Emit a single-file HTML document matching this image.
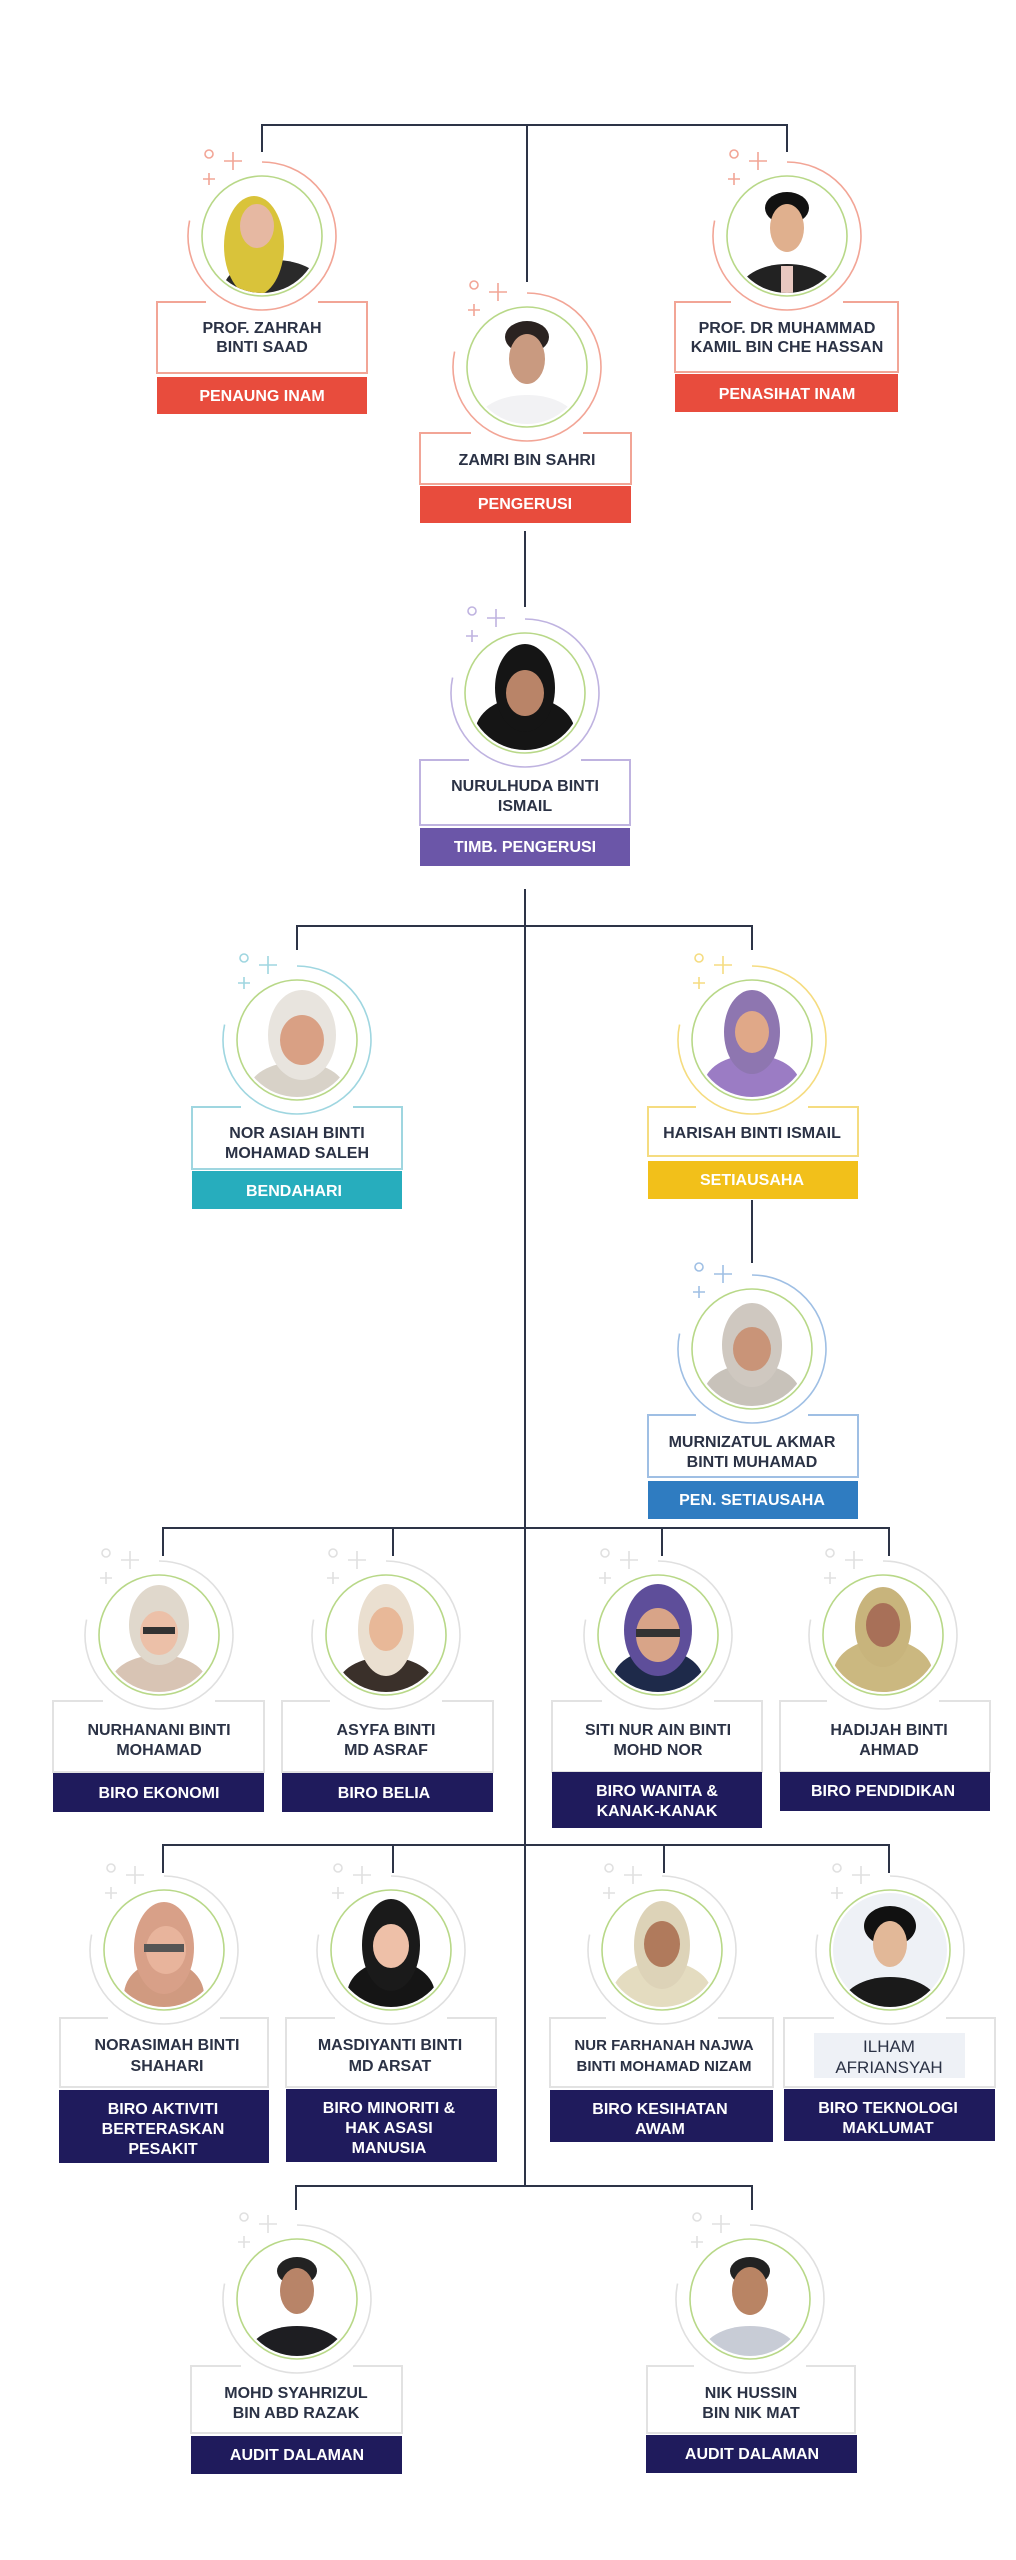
<!DOCTYPE html>
<html><head><meta charset="utf-8"><style>
html,body{margin:0;padding:0;background:#fff}
svg{display:block}
text{font-family:"Liberation Sans",Arial,sans-serif;font-weight:bold;text-anchor:middle}
.n{fill:#2b3245;font-size:16px}
.l{fill:#fff;font-size:16px}
</style></head><body>
<svg width="1016" height="2560" viewBox="0 0 1016 2560" xmlns="http://www.w3.org/2000/svg">
<defs><clipPath id="cp"><circle r="57"/></clipPath></defs>
<!-- connectors -->
<g stroke="#2d3447" stroke-width="2" fill="none">
<path d="M262,152V125H787V152M527,125V282"/>
<path d="M525,531V607M525,889V2186"/>
<path d="M297,950V926H752V950M752,1200V1263"/>
<path d="M163,1556V1528H889V1556M393,1528V1556M662,1528V1556"/>
<path d="M163,1873V1845H889V1873M393,1845V1873M664,1845V1873"/>
<path d="M296,2210V2186H752V2210"/>
</g>

<!-- boxes -->
<g stroke-width="2" fill="#fff">
<rect x="157" y="302" width="210" height="71" stroke="#f2a596"/>
<rect x="675" y="302" width="223" height="70" stroke="#f2a596"/>
<rect x="420" y="433" width="211" height="51" stroke="#f2a596"/>
<rect x="420" y="760" width="210" height="65" stroke="#bfb3e0"/>
<rect x="192" y="1107" width="210" height="62" stroke="#9fd6e0"/>
<rect x="648" y="1107" width="210" height="49" stroke="#f5dc80"/>
<rect x="648" y="1415" width="210" height="62" stroke="#9fbfe4"/>
<g stroke="#e2e2e2">
<rect x="53" y="1701" width="211" height="71"/>
<rect x="282" y="1701" width="211" height="71"/>
<rect x="552" y="1701" width="210" height="71"/>
<rect x="780" y="1701" width="210" height="71"/>
<rect x="60" y="2018" width="208" height="69"/>
<rect x="286" y="2018" width="210" height="69"/>
<rect x="550" y="2018" width="223" height="69"/>
<rect x="784" y="2018" width="211" height="69"/>
<rect x="191" y="2366" width="211" height="67"/>
<rect x="647" y="2366" width="208" height="67"/>
</g>
</g>
<rect x="814" y="2033" width="151" height="45" fill="#eef1f6"/>
<!-- gaps -->
<g stroke="#fff" stroke-width="4">
<path d="M206,302H318M731,302H843M471,433H583M469,760H581M241,1107H353M696,1107H808M696,1415H808"/>
<path d="M103,1701H215M330,1701H442M602,1701H714M827,1701H939"/>
<path d="M108,2018H220M335,2018H447M606,2018H718M834,2018H946"/>
<path d="M241,2366H353M694,2366H806"/>
</g>

<!-- labels -->
<rect x="157" y="377" width="210" height="37" fill="#e84c3d"/>
<rect x="675" y="374" width="223" height="38" fill="#e84c3d"/>
<rect x="420" y="486" width="211" height="37" fill="#e84c3d"/>
<rect x="420" y="828" width="210" height="38" fill="#6b56a8"/>
<rect x="192" y="1171" width="210" height="38" fill="#27adbd"/>
<rect x="648" y="1161" width="210" height="38" fill="#f2c01a"/>
<rect x="648" y="1481" width="210" height="38" fill="#2f7cc1"/>
<g fill="#1f1b5c">
<rect x="53" y="1773" width="211" height="39"/>
<rect x="282" y="1773" width="211" height="39"/>
<rect x="552" y="1772" width="210" height="56"/>
<rect x="780" y="1772" width="210" height="39"/>
<rect x="59" y="2090" width="210" height="73"/>
<rect x="286" y="2089" width="211" height="73"/>
<rect x="550" y="2090" width="223" height="52"/>
<rect x="784" y="2089" width="211" height="52"/>
<rect x="191" y="2436" width="211" height="38"/>
<rect x="646" y="2435" width="211" height="38"/>
</g>

<!-- node circles -->
<g fill="none" stroke-width="1.6">
<g transform="translate(262,236)" stroke="#f2a596"><path d="M0,-74A74,74 0 1 1 -72.4,-15.4"/><circle cx="-53" cy="-82" r="4"/><path d="M-38,-75h18M-29,-84v18M-59,-57h12M-53,-63v12"/><g clip-path="url(#cp)" stroke="none"><circle r="58" fill="#fff"/><ellipse cx="12" cy="52" rx="50" ry="28" fill="#2a2a2a"/><ellipse cx="-8" cy="10" rx="30" ry="50" fill="#d9c33a"/><ellipse cx="-5" cy="-10" rx="17" ry="22" fill="#e6b8a2"/></g><circle r="60" stroke="#b8d888"/></g>
<g transform="translate(787,236)" stroke="#f2a596"><path d="M0,-74A74,74 0 1 1 -72.4,-15.4"/><circle cx="-53" cy="-82" r="4"/><path d="M-38,-75h18M-29,-84v18M-59,-57h12M-53,-63v12"/><g clip-path="url(#cp)" stroke="none"><circle r="58" fill="#fff"/><ellipse cx="0" cy="56" rx="48" ry="28" fill="#222"/><ellipse cx="0" cy="-28" rx="22" ry="16" fill="#111"/><ellipse cx="0" cy="-8" rx="17" ry="24" fill="#e0b08e"/><rect x="-6" y="30" width="12" height="30" fill="#e8c8c0"/></g><circle r="60" stroke="#b8d888"/></g>
<g transform="translate(527,367)" stroke="#f2a596"><path d="M0,-74A74,74 0 1 1 -72.4,-15.4"/><circle cx="-53" cy="-82" r="4"/><path d="M-38,-75h18M-29,-84v18M-59,-57h12M-53,-63v12"/><g clip-path="url(#cp)" stroke="none"><circle r="58" fill="#fff"/><ellipse cx="0" cy="56" rx="50" ry="28" fill="#f2f2f4"/><ellipse cx="0" cy="-30" rx="22" ry="16" fill="#2a2220"/><ellipse cx="0" cy="-8" rx="18" ry="25" fill="#c99a80"/></g><circle r="60" stroke="#b8d888"/></g>
<g transform="translate(525,693)" stroke="#bfb3e0"><path d="M0,-74A74,74 0 1 1 -72.4,-15.4"/><circle cx="-53" cy="-82" r="4"/><path d="M-38,-75h18M-29,-84v18M-59,-57h12M-53,-63v12"/><g clip-path="url(#cp)" stroke="none"><circle r="58" fill="#fff"/><ellipse cx="0" cy="40" rx="50" ry="36" fill="#151515"/><ellipse cx="0" cy="-5" rx="30" ry="44" fill="#151515"/><ellipse cx="0" cy="0" rx="19" ry="23" fill="#b98468"/></g><circle r="60" stroke="#b8d888"/></g>
<g transform="translate(297,1040)" stroke="#9fd6e0"><path d="M0,-74A74,74 0 1 1 -72.4,-15.4"/><circle cx="-53" cy="-82" r="4"/><path d="M-38,-75h18M-29,-84v18M-59,-57h12M-53,-63v12"/><g clip-path="url(#cp)" stroke="none"><circle r="58" fill="#fff"/><ellipse cx="0" cy="50" rx="48" ry="28" fill="#d8d2c8"/><ellipse cx="5" cy="-5" rx="34" ry="45" fill="#e8e4de"/><ellipse cx="5" cy="0" rx="22" ry="25" fill="#d9a084"/></g><circle r="60" stroke="#b8d888"/></g>
<g transform="translate(752,1040)" stroke="#f5dc80"><path d="M0,-74A74,74 0 1 1 -72.4,-15.4"/><circle cx="-53" cy="-82" r="4"/><path d="M-38,-75h18M-29,-84v18M-59,-57h12M-53,-63v12"/><g clip-path="url(#cp)" stroke="none"><circle r="58" fill="#fff"/><ellipse cx="0" cy="45" rx="48" ry="30" fill="#9b7cc4"/><ellipse cx="0" cy="-8" rx="28" ry="42" fill="#8e76b0"/><ellipse cx="0" cy="-8" rx="17" ry="21" fill="#e0a888"/></g><circle r="60" stroke="#b8d888"/></g>
<g transform="translate(752,1349)" stroke="#9fbfe4"><path d="M0,-74A74,74 0 1 1 -72.4,-15.4"/><circle cx="-53" cy="-82" r="4"/><path d="M-38,-75h18M-29,-84v18M-59,-57h12M-53,-63v12"/><g clip-path="url(#cp)" stroke="none"><circle r="58" fill="#fff"/><ellipse cx="0" cy="45" rx="48" ry="30" fill="#c8c2ba"/><ellipse cx="0" cy="-4" rx="30" ry="42" fill="#cfc8c0"/><ellipse cx="0" cy="0" rx="19" ry="22" fill="#c99478"/></g><circle r="60" stroke="#b8d888"/></g>
</g>
<g fill="none" stroke-width="1.6" stroke="#e0e0e0">
<g transform="translate(159,1635)"><path d="M0,-74A74,74 0 1 1 -72.4,-15.4"/><circle cx="-53" cy="-82" r="4"/><path d="M-38,-75h18M-29,-84v18M-59,-57h12M-53,-63v12"/><g clip-path="url(#cp)" stroke="none"><circle r="58" fill="#fff"/><ellipse cx="0" cy="48" rx="48" ry="28" fill="#d8c4b4"/><ellipse cx="0" cy="-10" rx="30" ry="40" fill="#e0d8cc"/><ellipse cx="0" cy="-2" rx="19" ry="22" fill="#ecc0a8"/><rect x="-16" y="-8" width="32" height="7" fill="#333"/></g><circle r="60" stroke="#b8d888"/></g>
<g transform="translate(386,1635)"><path d="M0,-74A74,74 0 1 1 -72.4,-15.4"/><circle cx="-53" cy="-82" r="4"/><path d="M-38,-75h18M-29,-84v18M-59,-57h12M-53,-63v12"/><g clip-path="url(#cp)" stroke="none"><circle r="58" fill="#fff"/><ellipse cx="0" cy="50" rx="48" ry="28" fill="#3a302a"/><ellipse cx="0" cy="-5" rx="28" ry="46" fill="#eadfd0"/><ellipse cx="0" cy="-6" rx="17" ry="22" fill="#e8b898"/></g><circle r="60" stroke="#b8d888"/></g>
<g transform="translate(658,1635)"><path d="M0,-74A74,74 0 1 1 -72.4,-15.4"/><circle cx="-53" cy="-82" r="4"/><path d="M-38,-75h18M-29,-84v18M-59,-57h12M-53,-63v12"/><g clip-path="url(#cp)" stroke="none"><circle r="58" fill="#fff"/><ellipse cx="0" cy="45" rx="45" ry="30" fill="#1e2a4a"/><ellipse cx="0" cy="-5" rx="34" ry="46" fill="#5e4e9a"/><ellipse cx="0" cy="0" rx="22" ry="27" fill="#d8a488"/><rect x="-22" y="-6" width="44" height="8" fill="#333"/></g><circle r="60" stroke="#b8d888"/></g>
<g transform="translate(883,1635)"><path d="M0,-74A74,74 0 1 1 -72.4,-15.4"/><circle cx="-53" cy="-82" r="4"/><path d="M-38,-75h18M-29,-84v18M-59,-57h12M-53,-63v12"/><g clip-path="url(#cp)" stroke="none"><circle r="58" fill="#fff"/><ellipse cx="0" cy="40" rx="50" ry="36" fill="#cbb880"/><ellipse cx="0" cy="-8" rx="28" ry="40" fill="#c8b47c"/><ellipse cx="0" cy="-10" rx="17" ry="22" fill="#a87058"/></g><circle r="60" stroke="#b8d888"/></g>
<g transform="translate(164,1950)"><path d="M0,-74A74,74 0 1 1 -72.4,-15.4"/><circle cx="-53" cy="-82" r="4"/><path d="M-38,-75h18M-29,-84v18M-59,-57h12M-53,-63v12"/><g clip-path="url(#cp)" stroke="none"><circle r="58" fill="#fff"/><ellipse cx="0" cy="45" rx="40" ry="34" fill="#d09a80"/><ellipse cx="0" cy="-2" rx="30" ry="46" fill="#d8a088"/><ellipse cx="2" cy="0" rx="20" ry="24" fill="#e8b49c"/><rect x="-20" y="-6" width="40" height="8" fill="#555"/></g><circle r="60" stroke="#b8d888"/></g>
<g transform="translate(391,1950)"><path d="M0,-74A74,74 0 1 1 -72.4,-15.4"/><circle cx="-53" cy="-82" r="4"/><path d="M-38,-75h18M-29,-84v18M-59,-57h12M-53,-63v12"/><g clip-path="url(#cp)" stroke="none"><circle r="58" fill="#fff"/><ellipse cx="0" cy="45" rx="44" ry="34" fill="#151515"/><ellipse cx="0" cy="-5" rx="29" ry="46" fill="#1a1a1a"/><ellipse cx="0" cy="-4" rx="18" ry="22" fill="#eec0a8"/></g><circle r="60" stroke="#b8d888"/></g>
<g transform="translate(662,1950)"><path d="M0,-74A74,74 0 1 1 -72.4,-15.4"/><circle cx="-53" cy="-82" r="4"/><path d="M-38,-75h18M-29,-84v18M-59,-57h12M-53,-63v12"/><g clip-path="url(#cp)" stroke="none"><circle r="58" fill="#fff"/><ellipse cx="0" cy="45" rx="50" ry="34" fill="#e4dcc0"/><ellipse cx="0" cy="-5" rx="28" ry="44" fill="#ddd3b8"/><ellipse cx="0" cy="-6" rx="18" ry="23" fill="#b07a5c"/></g><circle r="60" stroke="#b8d888"/></g>
<g transform="translate(890,1950)"><path d="M0,-74A74,74 0 1 1 -72.4,-15.4"/><circle cx="-53" cy="-82" r="4"/><path d="M-38,-75h18M-29,-84v18M-59,-57h12M-53,-63v12"/><g clip-path="url(#cp)" stroke="none"><circle r="58" fill="#eef1f6"/><ellipse cx="0" cy="55" rx="48" ry="28" fill="#1a1a1a"/><ellipse cx="0" cy="-24" rx="26" ry="20" fill="#111"/><ellipse cx="0" cy="-6" rx="17" ry="23" fill="#e2b898"/></g><circle r="60" stroke="#b8d888"/></g>
<g transform="translate(297,2299)"><path d="M0,-74A74,74 0 1 1 -72.4,-15.4"/><circle cx="-53" cy="-82" r="4"/><path d="M-38,-75h18M-29,-84v18M-59,-57h12M-53,-63v12"/><g clip-path="url(#cp)" stroke="none"><circle r="58" fill="#fff"/><ellipse cx="0" cy="55" rx="48" ry="28" fill="#1e1e22"/><ellipse cx="0" cy="-28" rx="20" ry="14" fill="#222"/><ellipse cx="0" cy="-8" rx="17" ry="23" fill="#b88468"/></g><circle r="60" stroke="#b8d888"/></g>
<g transform="translate(750,2299)"><path d="M0,-74A74,74 0 1 1 -72.4,-15.4"/><circle cx="-53" cy="-82" r="4"/><path d="M-38,-75h18M-29,-84v18M-59,-57h12M-53,-63v12"/><g clip-path="url(#cp)" stroke="none"><circle r="58" fill="#fff"/><ellipse cx="0" cy="55" rx="48" ry="28" fill="#c8ccd6"/><ellipse cx="0" cy="-28" rx="20" ry="14" fill="#222"/><ellipse cx="0" cy="-8" rx="18" ry="24" fill="#b98464"/></g><circle r="60" stroke="#b8d888"/></g>
</g>

<!-- names -->
<text class="n" x="262" y="333">PROF. ZAHRAH</text><text class="n" x="262" y="352">BINTI SAAD</text>
<text class="n" x="787" y="333">PROF. DR MUHAMMAD</text><text class="n" x="787" y="352">KAMIL BIN CHE HASSAN</text>
<text class="n" x="527" y="465">ZAMRI BIN SAHRI</text>
<text class="n" x="525" y="791">NURULHUDA BINTI</text><text class="n" x="525" y="811">ISMAIL</text>
<text class="n" x="297" y="1138">NOR ASIAH BINTI</text><text class="n" x="297" y="1158">MOHAMAD SALEH</text>
<text class="n" x="752" y="1138">HARISAH BINTI ISMAIL</text>
<text class="n" x="752" y="1447">MURNIZATUL AKMAR</text><text class="n" x="752" y="1467">BINTI MUHAMAD</text>
<text class="n" x="159" y="1735">NURHANANI BINTI</text><text class="n" x="159" y="1755">MOHAMAD</text>
<text class="n" x="386" y="1735">ASYFA BINTI</text><text class="n" x="386" y="1755">MD ASRAF</text>
<text class="n" x="658" y="1735">SITI NUR AIN BINTI</text><text class="n" x="658" y="1755">MOHD NOR</text>
<text class="n" x="889" y="1735">HADIJAH BINTI</text><text class="n" x="889" y="1755">AHMAD</text>
<text class="n" x="167" y="2050">NORASIMAH BINTI</text><text class="n" x="167" y="2071">SHAHARI</text>
<text class="n" x="390" y="2050">MASDIYANTI BINTI</text><text class="n" x="390" y="2071">MD ARSAT</text>
<text class="n" x="664" y="2050" style="font-size:15px">NUR FARHANAH NAJWA</text><text class="n" x="664" y="2071" style="font-size:15px">BINTI MOHAMAD NIZAM</text>
<text class="n" x="889" y="2052" style="font-weight:normal;font-size:17px">ILHAM</text><text class="n" x="889" y="2073" style="font-weight:normal;font-size:17px">AFRIANSYAH</text>
<text class="n" x="296" y="2398">MOHD SYAHRIZUL</text><text class="n" x="296" y="2418">BIN ABD RAZAK</text>
<text class="n" x="751" y="2398">NIK HUSSIN</text><text class="n" x="751" y="2418">BIN NIK MAT</text>

<!-- label texts -->
<text class="l" x="262" y="401">PENAUNG INAM</text>
<text class="l" x="787" y="399">PENASIHAT INAM</text>
<text class="l" x="525" y="509">PENGERUSI</text>
<text class="l" x="525" y="852">TIMB. PENGERUSI</text>
<text class="l" x="294" y="1196">BENDAHARI</text>
<text class="l" x="752" y="1185">SETIAUSAHA</text>
<text class="l" x="752" y="1505">PEN. SETIAUSAHA</text>
<text class="l" x="159" y="1798">BIRO EKONOMI</text>
<text class="l" x="384" y="1798">BIRO BELIA</text>
<text class="l" x="657" y="1796">BIRO WANITA &amp;</text><text class="l" x="657" y="1816">KANAK-KANAK</text>
<text class="l" x="883" y="1796">BIRO PENDIDIKAN</text>
<text class="l" x="163" y="2114">BIRO AKTIVITI</text><text class="l" x="163" y="2134">BERTERASKAN</text><text class="l" x="163" y="2154">PESAKIT</text>
<text class="l" x="389" y="2113">BIRO MINORITI &amp;</text><text class="l" x="389" y="2133">HAK ASASI</text><text class="l" x="389" y="2153">MANUSIA</text>
<text class="l" x="660" y="2114">BIRO KESIHATAN</text><text class="l" x="660" y="2134">AWAM</text>
<text class="l" x="888" y="2113">BIRO TEKNOLOGI</text><text class="l" x="888" y="2133">MAKLUMAT</text>
<text class="l" x="297" y="2460">AUDIT DALAMAN</text>
<text class="l" x="752" y="2459">AUDIT DALAMAN</text>
</svg>
</body></html>
